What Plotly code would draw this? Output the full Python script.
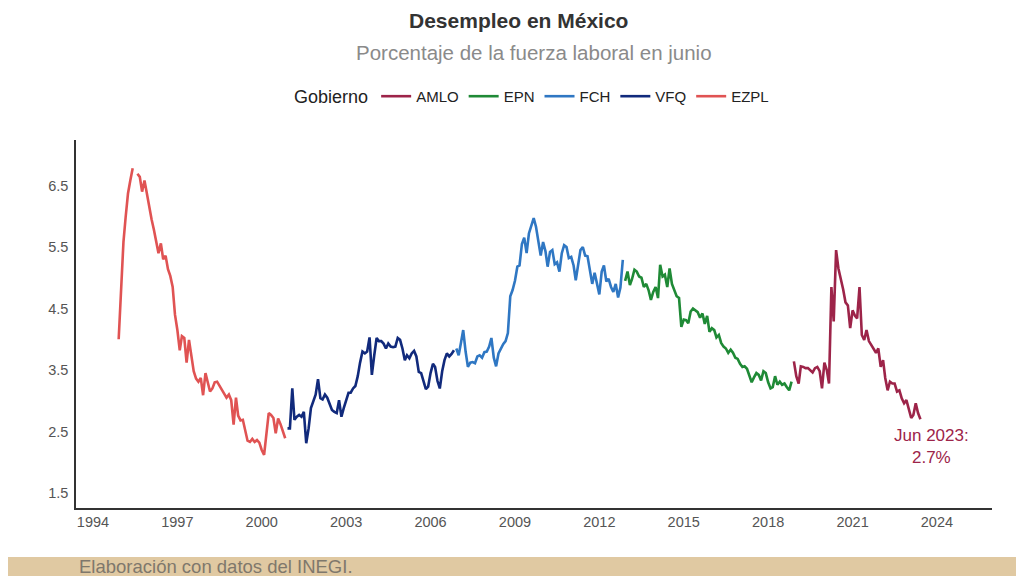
"""Desempleo en México por sexenio (tasa mensual, % de la fuerza laboral)."""

import pandas as pd
import plotly.graph_objects as go

# Tasa de desocupación mensual (%).
# Cada sexenio arranca en diciembre; None = mes sin dato.
ezpl_start = "1994-12-01"
ezpl_values = [
    4.00,
    4.85, 5.58, 5.98, 6.37, 6.58, 6.78, None, 6.69, 6.64, 6.40, 6.58, 6.38,
    6.13, 5.95, 5.79, 5.61, 5.40, 5.56, 5.30, 5.36, 5.14, 5.03, 4.85, 4.40,
    4.15, 3.82, 4.05, 4.02, 3.62, 3.99, 3.72, 3.48, 3.36, 3.31, 3.37, 3.09,
    3.45, 3.30, 3.15, 3.20, 3.30, 3.31, 3.25, 3.18, 3.12, 3.05, 3.10, 3.01,
    2.61, 3.05, 2.76, 2.68, 2.69, 2.50, 2.35, 2.33, 2.38, 2.33, 2.36, 2.32,
    2.20, 2.12, 2.50, 2.80, 2.77, 2.72, 2.47, 2.71, 2.62, 2.50, 2.39,
]

vfq_start = "2000-12-01"
vfq_values = [
    2.55,
    2.55, 3.20, 2.69, 2.74, 2.77, 2.74, 2.82, 2.31, 2.55, 2.88, 3.01, 3.10,
    3.35, 3.04, 3.02, 3.10, 3.05, 2.95, 2.85, 2.82, 2.80, 3.01, 2.74, 2.88,
    3.01, 3.13, 3.13, 3.20, 3.24, 3.40, 3.62, 3.80, 3.77, 3.80, 4.03, 3.42,
    3.74, 4.02, 3.97, 3.97, 3.93, 3.85, 3.93, 3.88, 3.87, 3.88, 4.02, 3.99,
    3.85, 3.66, 3.74, 3.69, 3.77, 3.81, 3.72, 3.47, 3.45, 3.30, 3.19, 3.23,
    3.45, 3.60, 3.55, 3.32, 3.20, 3.48, 3.66, 3.77, 3.72, 3.76, 3.82,
]

fch_start = "2006-12-01"
fch_values = [
    3.85,
    3.74, 3.95, 4.15, 3.80, 3.55, 3.62, 3.63, 3.61, 3.72, 3.74, 3.70, 3.79,
    3.80, 3.88, 4.02, 3.70, 3.56, 3.77, 3.85, 3.92, 3.97, 4.10, 4.70, 4.80,
    4.95, 5.18, 5.20, 5.55, 5.65, 5.40, 5.72, 5.85, 5.97, 5.83, 5.56, 5.36,
    5.58, 5.43, 5.18, 5.42, 5.45, 5.22, 5.25, 5.10, 5.40, 5.53, 5.50, 5.32,
    5.34, 5.20, 4.96, 5.25, 5.45, 5.50, 5.36, 5.35, 5.10, 4.90, 5.08, 4.90,
    4.73, 5.10, 5.20, 4.94, 4.98, 4.85, 4.77, 4.90, 4.68, 4.84, 5.29,
]

epn_start = "2012-12-01"
epn_values = [
    4.95,
    5.10, 4.88, 4.98, 5.13, 5.10, 5.02, 5.00, 4.85, 4.90, 4.80, 4.64, 4.77,
    4.85, 4.67, 5.21, 5.02, 5.05, 4.85, 5.15, 4.90, 4.80, 4.70, 4.67, 4.20,
    4.32, 4.31, 4.26, 4.45, 4.50, 4.47, 4.44, 4.35, 4.42, 4.25, 4.38, 4.12,
    4.18, 4.15, 4.03, 4.07, 3.94, 3.88, 3.85, 3.78, 3.83, 3.78, 3.70, 3.68,
    3.60, 3.55, 3.56, 3.52, 3.40, 3.30, 3.38, 3.45, 3.42, 3.33, 3.48, 3.45,
    3.30, 3.20, 3.22, 3.40, 3.26, 3.31, 3.26, 3.28, 3.22, 3.17, 3.31,
]

amlo_start = "2018-12-01"
amlo_values = [
    3.64,
    3.40, 3.28, 3.56, 3.55, 3.53, 3.53, 3.50, 3.46, 3.53, 3.55, 3.48, 3.20,
    3.62, 3.50, 3.28, 4.85, 4.29, 5.45, 5.15, 5.00, 4.81, 4.60, 4.55, 4.18,
    4.47, 4.38, 4.34, 4.85, 4.07, 3.99, 4.15, 3.97, 3.90, 3.85, 3.78, 3.85,
    3.55, 3.66, 3.37, 3.17, 3.31, 3.28, 3.28, 3.15, 3.17, 3.04, 2.96, 3.01,
    2.85, 2.72, 2.77, 2.96, 2.80, 2.70,
]

# Orden de la leyenda
gobiernos = ["AMLO", "EPN", "FCH", "VFQ", "EZPL"]
series = {
    "AMLO": (amlo_start, amlo_values, "#9d2449"),
    "EPN": (epn_start, epn_values, "#1f8a36"),
    "FCH": (fch_start, fch_values, "#2f77c3"),
    "VFQ": (vfq_start, vfq_values, "#112a7c"),
    "EZPL": (ezpl_start, ezpl_values, "#e05353"),
}

year_ticks_start = "1994-01-01"
y_ticks = [1.5, 2.5, 3.5, 4.5, 5.5, 6.5]

fig = go.Figure()
for name in gobiernos:
    start, values, color = series[name]
    dates = pd.date_range(start, periods=len(values), freq="MS")
    fig.add_trace(
        go.Scatter(
            x=dates,
            y=values,
            mode="lines",
            name=name,
            line={"color": color, "width": 2.6},
            connectgaps=False,
        )
    )

last_date = pd.date_range(amlo_start, periods=len(amlo_values), freq="MS")[-1]
last_value = amlo_values[-1]

# the page body keeps its 8px margin, so the figure is 8px smaller
fig.update_layout(
    width=1016,
    height=568,
    paper_bgcolor="white",
    plot_bgcolor="white",
    font={"family": "Liberation Sans, Arial, sans-serif", "color": "#555555"},
    margin={"l": 68, "r": 32, "t": 132, "b": 68},
    xaxis={
        "type": "date",
        "range": ["1993-05-26", "2025-12-16"],
        "tick0": year_ticks_start,
        "dtick": "M36",
        "tickformat": "%Y",
        "showgrid": False,
        "zeroline": False,
        "showline": True,
        "linecolor": "#333333",
        "linewidth": 1.5,
        "ticks": "",
        "tickfont": {"size": 14.5, "color": "#555555"},
    },
    yaxis={
        "range": [1.256, 7.24],
        "tickvals": y_ticks,
        "ticktext": [f"{v:.1f}" for v in y_ticks],
        "showgrid": False,
        "zeroline": False,
        "showline": True,
        "linecolor": "#333333",
        "linewidth": 1.5,
        "ticks": "",
        "ticklabelstandoff": 3,
        "tickfont": {"size": 14.5, "color": "#555555"},
    },
    legend={
        "orientation": "h",
        "x": 0.499,
        "xanchor": "center",
        "y": 1.117,
        "yanchor": "middle",
        "title": {"text": "Gobierno", "font": {"size": 18, "color": "#222222"}},
        "font": {"size": 15, "color": "#222222"},
    },
    shapes=[
        # franja inferior de la fuente
        {
            "type": "rect",
            "xref": "paper",
            "yref": "paper",
            "x0": -0.09,
            "x1": 1.04,
            "y0": -0.2,
            "y1": -0.133,
            "fillcolor": "#e0c9a2",
            "line": {"width": 0},
            "layer": "below",
        }
    ],
    annotations=[
        {
            "text": "<b>Desempleo en México</b>",
            "xref": "paper",
            "yref": "paper",
            "x": 0.4836,
            "y": 1.326,
            "yanchor": "middle",
            "showarrow": False,
            "font": {"size": 21, "color": "#333333"},
        },
        {
            "text": "Porcentaje de la fuerza laboral en junio",
            "xref": "paper",
            "yref": "paper",
            "x": 0.5,
            "y": 1.239,
            "yanchor": "middle",
            "showarrow": False,
            "font": {"size": 20.5, "color": "#8a8a8a"},
        },
        {
            "text": f"Jun 2023:<br>{last_value:.1f}%",
            "x": last_date,
            "y": last_value,
            "xshift": 11,
            "yshift": -5,
            "yanchor": "top",
            "showarrow": False,
            "font": {"size": 17, "color": "#9d2449"},
        },
        {
            "text": "Elaboración con datos del INEGI.",
            "xref": "paper",
            "yref": "paper",
            "x": 0.001,
            "xanchor": "left",
            "y": -0.159,
            "yanchor": "middle",
            "showarrow": False,
            "font": {"size": 18.5, "color": "#7f786c"},
        },
    ],
)

fig.write_html("out.html")
